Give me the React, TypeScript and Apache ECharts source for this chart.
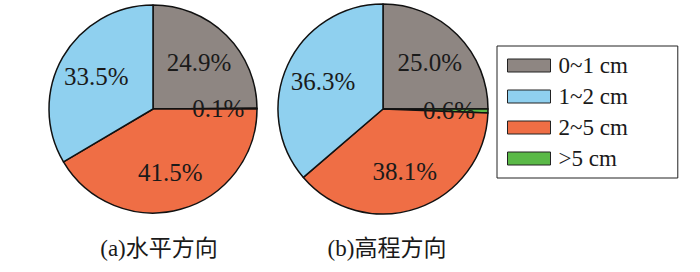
import React, { useEffect, useRef } from "react";
import * as echarts from "echarts";

const legendNames = ["0~1 cm", "1~2 cm", "2~5 cm", ">5 cm"];
// clockwise order from 12 o'clock
const sliceOrder = ["0~1 cm", ">5 cm", "2~5 cm", "1~2 cm"];
const horizontalValues = [24.9, 0.1, 41.5, 33.5];
const elevationValues = [25.0, 0.6, 38.1, 36.3];
const panelTitles = ["(a)水平方向", "(b)高程方向"];
const colorMap: Record<string, string> = {
  "0~1 cm": "#8e8682",
  "1~2 cm": "#8fd0ef",
  "2~5 cm": "#ef6e45",
  ">5 cm": "#5ab947",
};

const FONT = '"Liberation Serif", "Times New Roman", "Noto Sans CJK SC", serif';

function buildData(values: number[], transparent: boolean) {
  return sliceOrder.map((name, i) => ({
    name,
    value: values[i],
    itemStyle: transparent
      ? { color: "rgba(0,0,0,0)", borderWidth: 0 }
      : { color: colorMap[name] },
  }));
}

function pieSeries(values: number[], center: [number, number], radius: number) {
  const main = {
    type: "pie",
    center,
    radius: [0, radius],
    startAngle: 90,
    clockwise: true,
    avoidLabelOverlap: false,
    silent: true,
    label: { show: false },
    labelLine: { show: false },
    itemStyle: { borderColor: "#111", borderWidth: 1.5 },
    emphasis: { disabled: true },
    data: buildData(values, false),
  };
  const labels = {
    type: "pie",
    center,
    radius: [radius * 0.4, radius * 0.8],
    startAngle: 90,
    clockwise: true,
    avoidLabelOverlap: false,
    silent: true,
    z: 5,
    itemStyle: { color: "rgba(0,0,0,0)", borderWidth: 0 },
    label: {
      show: true,
      position: "inside",
      formatter: (p: any) => p.value.toFixed(1) + "%",
      fontFamily: FONT,
      fontSize: 25,
      color: "#1a1a1a",
      textBorderWidth: 0,
    },
    labelLine: { show: false },
    emphasis: { disabled: true },
    data: buildData(values, true),
  };
  return [main, labels];
}

export default function App() {
  const ref = useRef<HTMLDivElement>(null);
  useEffect(() => {
    document.body.style.margin = "0";
    const chart = echarts.init(ref.current!, null, { renderer: "svg" });
    chart.setOption({
      animation: false,
      backgroundColor: "#ffffff",
      legend: {
        data: legendNames.map((name) => ({
          name,
          itemStyle: { color: colorMap[name], borderColor: "#222", borderWidth: 1 },
        })),
        orient: "vertical",
        left: 497,
        top: 46,
        padding: [8, 50, 8, 10],
        itemWidth: 43,
        itemHeight: 13,
        itemGap: 8,
        borderColor: "#222",
        borderWidth: 1,
        icon: "rect",
        textStyle: { fontFamily: FONT, fontSize: 23, color: "#1a1a1a", padding: [0, 0, 0, 3] },
        selectedMode: false,
      },
      series: [
        ...pieSeries(horizontalValues, [153, 109], 104),
        ...pieSeries(elevationValues, [383, 109], 105),
      ],
      graphic: [
        {
          type: "text",
          x: 159,
          y: 248,
          style: {
            text: panelTitles[0],
            fontFamily: FONT,
            fontSize: 23,
            fill: "#1a1a1a",
            align: "center",
            verticalAlign: "middle",
          },
        },
        {
          type: "text",
          x: 387,
          y: 248,
          style: {
            text: panelTitles[1],
            fontFamily: FONT,
            fontSize: 23,
            fill: "#1a1a1a",
            align: "center",
            verticalAlign: "middle",
          },
        },
      ],
    });
    return () => chart.dispose();
  }, []);
  return <div ref={ref} style={{ width: 700, height: 272 }} />;
}
